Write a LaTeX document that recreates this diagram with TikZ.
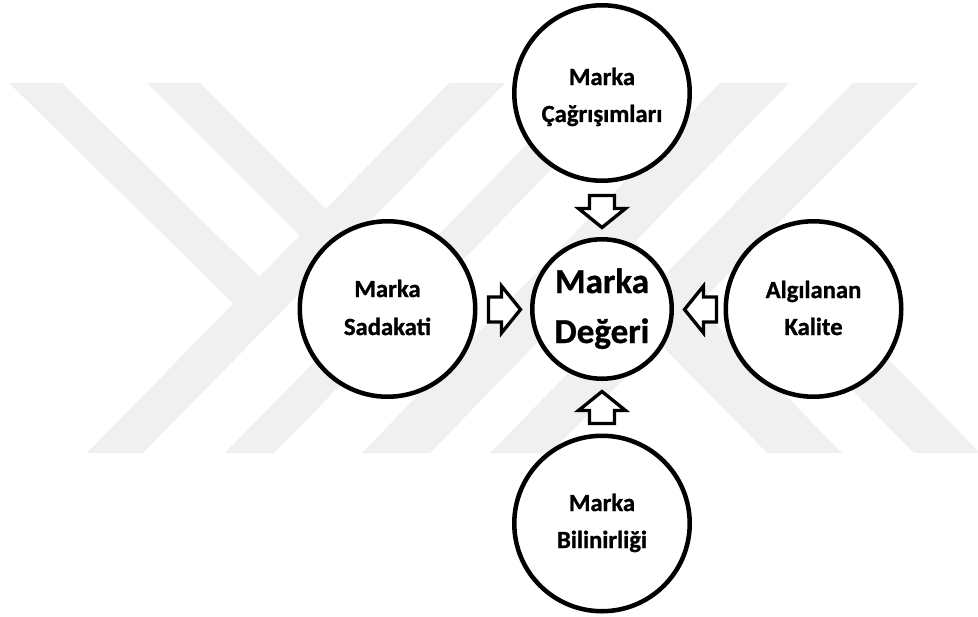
\documentclass[tikz,border=0pt]{standalone}
\usepackage{fontspec}
\setmainfont{Carlito}[BoldFeatures={FakeBold=1}]

\begin{document}
\begin{tikzpicture}[x=0.75pt, y=-0.75pt,
  wm/.style={fill=black!6, draw=none},
  bubble/.style={circle, draw=black, line width=3.4pt, fill=white,
    minimum size=131.6pt, inner sep=0pt},
  core/.style={bubble, minimum size=104.6pt},
  arrowline/.style={draw=black, line width=2.5pt, fill=white},
  pics/blockarr/.style={code={
    % hollow block arrow pointing along +x, tip at the origin
    \draw[arrowline] (-32,-12.5) -- (-19,-12.5) -- (-19,-23.5) -- (0,0)
      -- (-19,23.5) -- (-19,12.5) -- (-32,12.5) -- cycle;}},
  lbl/.style={font=\fontsize{18.5}{22}\selectfont\bfseries, inner sep=0pt, anchor=base},
  biglbl/.style={font=\fontsize{26.3}{31}\selectfont\bfseries, inner sep=0pt, anchor=base}]

% page area
\useasboundingbox (0,0) rectangle (978,617);
\fill[white] (0,0) rectangle (978,617);

% light watermark bands
\begin{scope}
  \clip (0,0) rectangle (978,617);
  \fill[wm] (87,453) -- (143,453) -- (505,83) -- (449,83) -- cycle;
  \fill[wm] (225,453) -- (274,453) -- (636,83) -- (587,83) -- cycle;
  \fill[wm] (362,453) -- (430,453) -- (789,83) -- (720,83) -- cycle;
  \fill[wm] (490,453) -- (550,453) -- (918,83) -- (853,83) -- cycle;
  \fill[wm] (9,83) -- (62,83) -- (288,305) -- (262,331.5) -- cycle;
  \fill[wm] (147,83) -- (200,83) -- (354,237) -- (328,264) -- cycle;
  \fill[wm] (563,245) -- (635,241.5) -- (842,453) -- (767,453) -- cycle;
  \fill[wm] (702,237) -- (767,235) -- (980,453) -- (914,453) -- cycle;
\end{scope}

% circles
\node[core]   (deger)    at (602,309)   {};
\node[bubble] (cagrisim) at (602,93)    {};
\node[bubble] (sadakat)  at (387.5,309) {};
\node[bubble] (kalite)   at (813.5,309) {};
\node[bubble] (bilinir)  at (602,523.5) {};

% block arrows pointing at the central circle
\pic[rotate=-90] (arTop)    at (602,227.5) {blockarr};
\pic[rotate=90]  (arBottom) at (602,391.5) {blockarr};
\pic             (arLeft)   at (520.5,309.5) {blockarr};
\pic[rotate=180] (arRight)  at (684.5,309.5) {blockarr};

% labels
\node[biglbl] (tD1) at (602,293) {Marka};
\node[biglbl] (tD2) at (602,343) {Değeri};
\node[lbl] (tC1) at (602,85)    {Marka};
\node[lbl] (tC2) at (602,122)   {Çağrışımları};
\node[lbl] (tS1) at (387.5,297) {Marka};
\node[lbl] (tS2) at (387.5,335) {Sadakati};
\node[lbl] (tK1) at (813.5,298) {Algılanan};
\node[lbl] (tK2) at (813.5,335) {Kalite};
\node[lbl] (tB1) at (602,511)   {Marka};
\node[lbl] (tB2) at (602,548)   {Bilinirliği};
\end{tikzpicture}
\end{document}
